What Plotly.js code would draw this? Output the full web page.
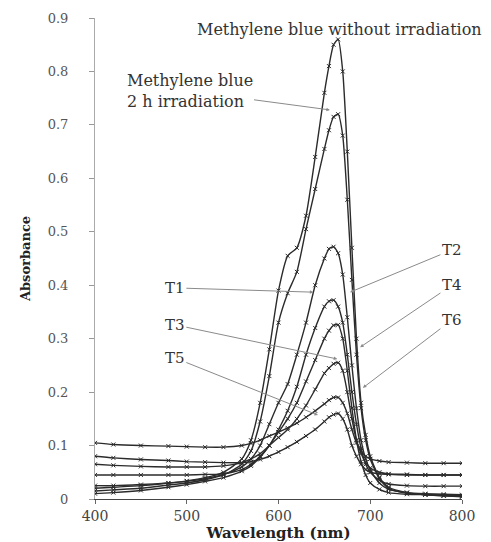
<!DOCTYPE html>
<html>
<head>
<meta charset="utf-8">
<script src="https://cdn.plot.ly/plotly-3.0.1.min.js"></script>
<style>html,body{margin:0;padding:0;background:#fff;}#chart{width:491px;height:542px;}</style>
</head>
<body>
<div id="chart"></div>
<script>
// Wavelength grid (nm)
const wavelength = [400,420,450,480,500,520,540,560,570,580,590,600,610,620,630,640,650,655,660,665,670,675,680,685,690,695,700,710,720,740,760,780,800];

// Absorbance series
const mbNoIrr = [0.020,0.022,0.025,0.030,0.034,0.040,0.050,0.075,0.110,0.180,0.280,0.390,0.455,0.470,0.530,0.640,0.760,0.810,0.850,0.860,0.800,0.650,0.470,0.300,0.180,0.120,0.080,0.040,0.022,0.012,0.008,0.006,0.005];
const mb2h    = [0.015,0.017,0.020,0.026,0.030,0.036,0.045,0.065,0.090,0.145,0.230,0.330,0.385,0.425,0.505,0.580,0.655,0.690,0.715,0.720,0.680,0.560,0.410,0.270,0.170,0.110,0.075,0.038,0.020,0.011,0.008,0.006,0.004];
const t1      = [0.025,0.025,0.027,0.030,0.033,0.038,0.046,0.060,0.075,0.100,0.140,0.180,0.215,0.270,0.330,0.400,0.450,0.468,0.472,0.460,0.420,0.340,0.250,0.170,0.110,0.075,0.055,0.030,0.018,0.012,0.010,0.009,0.008];
const t2      = [0.045,0.045,0.045,0.045,0.045,0.046,0.047,0.055,0.065,0.080,0.100,0.130,0.165,0.210,0.270,0.320,0.360,0.370,0.372,0.360,0.330,0.270,0.200,0.140,0.095,0.065,0.050,0.035,0.028,0.025,0.024,0.024,0.024];
const t3      = [0.010,0.012,0.016,0.022,0.027,0.033,0.040,0.052,0.062,0.078,0.100,0.125,0.150,0.180,0.220,0.260,0.300,0.315,0.325,0.326,0.300,0.240,0.170,0.110,0.070,0.045,0.030,0.018,0.012,0.009,0.008,0.007,0.006];
const t4      = [0.065,0.063,0.061,0.060,0.060,0.060,0.062,0.068,0.075,0.085,0.100,0.115,0.130,0.150,0.175,0.205,0.235,0.245,0.253,0.255,0.240,0.200,0.150,0.110,0.085,0.068,0.058,0.050,0.047,0.046,0.045,0.045,0.045];
const t5      = [0.105,0.102,0.100,0.099,0.098,0.097,0.097,0.100,0.104,0.110,0.118,0.125,0.133,0.142,0.153,0.165,0.178,0.185,0.190,0.190,0.180,0.160,0.130,0.105,0.090,0.080,0.075,0.071,0.069,0.068,0.067,0.067,0.067];
const t6      = [0.080,0.077,0.074,0.072,0.070,0.069,0.068,0.068,0.070,0.074,0.080,0.088,0.097,0.107,0.118,0.130,0.145,0.153,0.158,0.160,0.150,0.130,0.100,0.080,0.065,0.055,0.050,0.047,0.046,0.045,0.045,0.045,0.045];

const seriesNames = ["Methylene blue without irradiation","Methylene blue 2 h irradiation","T1","T2","T3","T4","T5","T6"];
const seriesValues = [mbNoIrr, mb2h, t1, t2, t3, t4, t5, t6];

const xTicks = [400,500,600,700,800];
const yTicks = [0,0.1,0.2,0.3,0.4,0.5,0.6,0.7,0.8,0.9];
const yTickText = ["0","0.1","0.2","0.3","0.4","0.5","0.6","0.7","0.8","0.9"];

const serif = "DejaVu Serif, Liberation Serif, serif";

const traces = seriesValues.map((vals, i) => ({
  x: wavelength,
  y: vals,
  name: seriesNames[i],
  type: "scatter",
  mode: "lines+markers",
  line: {color: "#2b2b2b", width: 1.4, shape: "spline", smoothing: 0.6},
  marker: {symbol: "x-thin-open", size: 4, line: {color: "#7a7a7a", width: 1}},
  hoverinfo: "skip"
}));

const arrowStyle = {showarrow: true, arrowhead: 2, arrowsize: 0.7, arrowwidth: 1, arrowcolor: "#8a8a8a", axref: "x", ayref: "y", standoff: 0, font: {family: serif, size: 15, color: "#333"}};

const annotations = [
  {text: "Methylene blue without irradiation", x: 666, y: 0.878, showarrow: false, font: {family: serif, size: 16, color: "#333"}},
  Object.assign({}, arrowStyle, {text: "Methylene blue<br>2 h irradiation", align: "left", x: 656, y: 0.728, ax: 503, ay: 0.763, font: {family: serif, size: 16, color: "#333"}}),
  Object.assign({}, arrowStyle, {text: "T1", x: 638, y: 0.387, ax: 487, ay: 0.395}),
  Object.assign({}, arrowStyle, {text: "T3", x: 664, y: 0.262, ax: 487, ay: 0.326}),
  Object.assign({}, arrowStyle, {text: "T5", x: 643, y: 0.157, ax: 487, ay: 0.264}),
  Object.assign({}, arrowStyle, {text: "T2", x: 678, y: 0.387, ax: 789, ay: 0.466}),
  Object.assign({}, arrowStyle, {text: "T4", x: 689, y: 0.284, ax: 789, ay: 0.400}),
  Object.assign({}, arrowStyle, {text: "T6", x: 692, y: 0.208, ax: 789, ay: 0.335})
];

const layout = {
  width: 491, height: 542,
  margin: {l: 95, r: 29, t: 18, b: 43},
  paper_bgcolor: "#fff", plot_bgcolor: "#fff",
  showlegend: false,
  xaxis: {
    range: [400, 800], tickvals: xTicks, ticktext: xTicks.map(String),
    showgrid: false, zeroline: false, showline: true, linecolor: "#444", linewidth: 1,
    ticks: "outside", ticklen: 4, tickcolor: "#666",
    tickfont: {family: serif, size: 14, color: "#444"},
    title: {text: "<b>Wavelength (nm)</b>", font: {family: serif, size: 15, color: "#222"}, standoff: 12}
  },
  yaxis: {
    range: [0, 0.9], tickvals: yTicks, ticktext: yTickText,
    showgrid: false, zeroline: false, showline: true, linecolor: "#aaa", linewidth: 1,
    ticks: "outside", ticklen: 5, tickcolor: "#999", ticklabelstandoff: 18,
    tickfont: {family: serif, size: 13, color: "#555"},
    title: {text: "<b>Absorbance</b>", font: {family: serif, size: 13, color: "#222"}, standoff: 14}
  },
  annotations: annotations
};

Plotly.newPlot("chart", traces, layout, {displayModeBar: false, staticPlot: true});
</script>
</body>
</html>
